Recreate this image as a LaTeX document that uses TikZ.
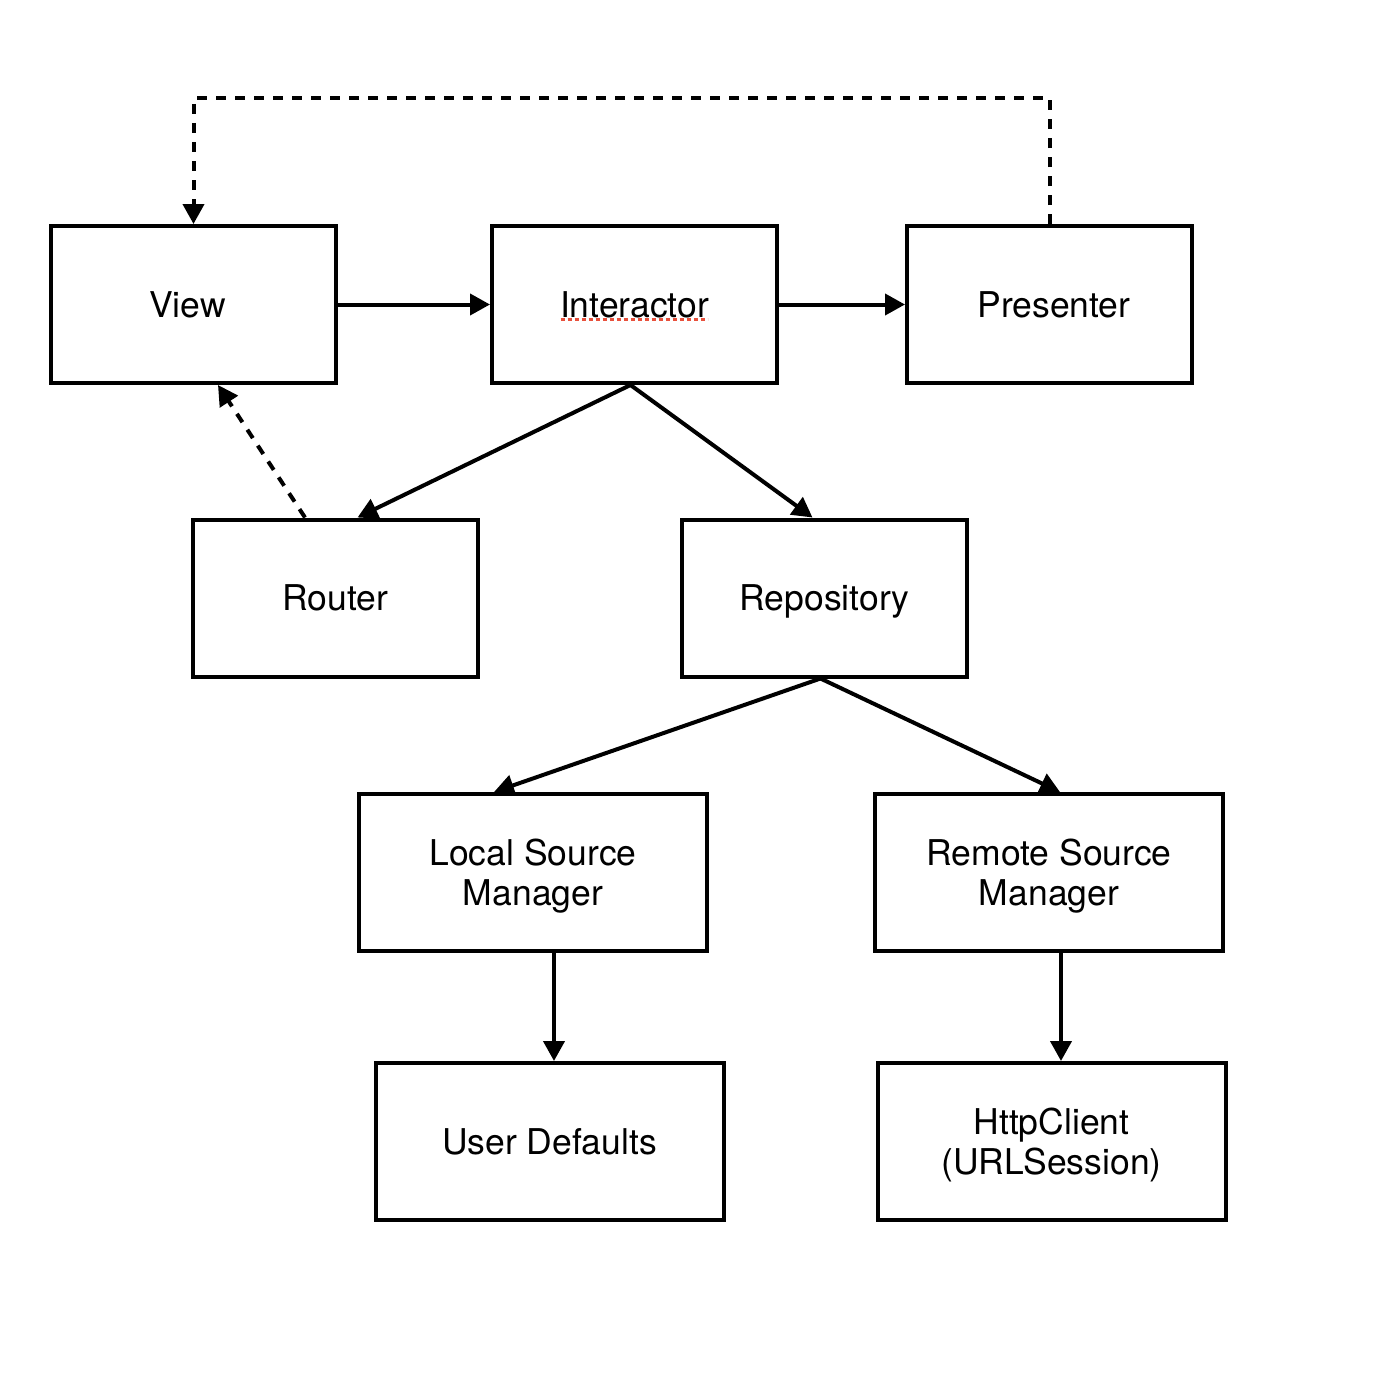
\documentclass[tikz,border=0pt]{standalone}
\usepackage{fontspec}
\setmainfont{TeX Gyre Heros}
\usetikzlibrary{arrows.meta,calc}
\begin{document}
\begin{tikzpicture}[x=1pt,y=-1pt,
  box/.style={draw=black,line width=4pt,fill=white,minimum width=285pt,minimum height=157pt,
    inner sep=0pt,align=center,text depth=0pt,font=\fontsize{35.5}{40}\selectfont},
  wbox/.style={box,minimum width=348pt},
  conn/.style={line width=4pt,-{Triangle[length=20pt,width=21pt]}},
  dconn/.style={conn,dash pattern=on 10pt off 9pt}]
\useasboundingbox (0,0) rectangle (1394,1378);
\fill[white] (0,0) rectangle (1394,1378);
\node[box] (view) at (193.5,304.5) {View\hspace*{12pt}};
\node[box] (interactor) at (634.5,304.5) {Interactor};
\node[box] (presenter) at (1049.5,304.5) {\hspace*{9pt}Presenter};
\node[box] (router) at (335.5,598) {Router};
\node[box] (repo) at (824.5,598) {Repository};
\node[wbox] (local) at (533,872.5) {Local Source\\Manager};
\node[wbox] (remote) at (1049,872.5) {Remote Source\\Manager};
\node[wbox] (ud) at (549.5,1141.5) {User Defaults};
\node[wbox] (http) at (1051.5,1141.5) {HttpClient\\(URLSession)};
% spell-check underline
\coordinate (ul1) at ($(interactor.center)+(-74,15)$);
\coordinate (ul2) at ($(interactor.center)+(73,15)$);
\draw[color={rgb,255:red,232;green,80;blue,60},line width=3pt,dash pattern=on 4pt off 3pt] (ul1) -- (ul2);
\draw[conn] (view.east) -- (interactor.west);
\draw[conn] (interactor.east) -- (presenter.west);
\draw[dconn] (presenter.north) -- ++(0,-126) -| (view.north);
\draw[dconn] ([xshift=-30.5]router.north) -- ([xshift=24.5]view.south);
\draw[conn] ([xshift=-4]interactor.south) -- ([xshift=22]router.north);
\draw[conn] ([xshift=-4]interactor.south) -- ([xshift=-12]repo.north);
\draw[conn] ([xshift=-4]repo.south) -- ([xshift=-39]local.north);
\draw[conn] ([xshift=-4]repo.south) -- ([xshift=11]remote.north);
\draw[conn] ([xshift=21]local.south) -- ([xshift=21]local.south |- ud.north);
\draw[conn] ([xshift=12]remote.south) -- ([xshift=12]remote.south |- http.north);
\end{tikzpicture}
\end{document}
